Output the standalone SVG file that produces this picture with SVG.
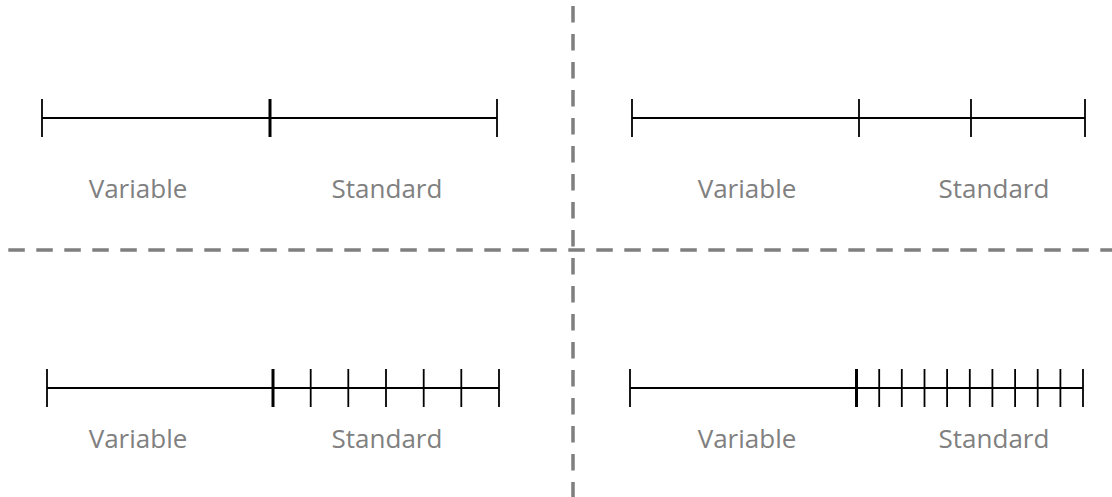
<svg xmlns="http://www.w3.org/2000/svg" width="1112" height="497" viewBox="0 0 1112 497">
<style>
.bg{fill:#fff}
.dash{stroke:#7f7f7f;stroke-width:3.5;stroke-dasharray:16.5 11.5;fill:none}
.axis{stroke:#000;stroke-width:1.8;fill:none}
.tick{stroke:#000;stroke-width:1.8}
.tick.b{stroke-width:3}
.lbl{font-family:"Open Sans","Noto Sans",sans-serif;font-size:26px;fill:#808080;text-anchor:middle}
</style>
<rect class="bg" x="0" y="0" width="1112" height="497"/>
<g id="connectors">
<line class="dash" x1="8.3" y1="250" x2="1112" y2="250"/>
<line class="dash" x1="573" y1="6" x2="573" y2="497"/>
</g>
<g id="panel-top-left">
<line class="axis" x1="42" y1="118" x2="497" y2="118"/>
<line class="tick" x1="42" y1="99" x2="42" y2="137"/>
<line class="tick b" x1="270" y1="99" x2="270" y2="137"/>
<line class="tick" x1="497" y1="99" x2="497" y2="137"/>
<text class="lbl" x="138" y="198">Variable</text>
<text class="lbl" x="387" y="198">Standard</text>
</g>
<g id="panel-top-right">
<line class="axis" x1="632" y1="118" x2="1085" y2="118"/>
<line class="tick" x1="632" y1="99" x2="632" y2="137"/>
<line class="tick" x1="859" y1="99" x2="859" y2="137"/>
<line class="tick" x1="971" y1="99" x2="971" y2="137"/>
<line class="tick" x1="1085" y1="99" x2="1085" y2="137"/>
<text class="lbl" x="747" y="198">Variable</text>
<text class="lbl" x="994" y="198">Standard</text>
</g>
<g id="panel-bottom-left">
<line class="axis" x1="47" y1="388" x2="499" y2="388"/>
<line class="tick" x1="47" y1="369" x2="47" y2="407"/>
<line class="tick b" x1="273" y1="369" x2="273" y2="407"/>
<line class="tick" x1="310.7" y1="369" x2="310.7" y2="407"/>
<line class="tick" x1="348.3" y1="369" x2="348.3" y2="407"/>
<line class="tick" x1="386" y1="369" x2="386" y2="407"/>
<line class="tick" x1="423.7" y1="369" x2="423.7" y2="407"/>
<line class="tick" x1="461.3" y1="369" x2="461.3" y2="407"/>
<line class="tick" x1="499" y1="369" x2="499" y2="407"/>
<text class="lbl" x="138" y="448">Variable</text>
<text class="lbl" x="387" y="448">Standard</text>
</g>
<g id="panel-bottom-right">
<line class="axis" x1="630" y1="388" x2="1083" y2="388"/>
<line class="tick" x1="630" y1="369" x2="630" y2="407"/>
<line class="tick b" x1="856.5" y1="369" x2="856.5" y2="407"/>
<line class="tick" x1="879.2" y1="369" x2="879.2" y2="407"/>
<line class="tick" x1="901.8" y1="369" x2="901.8" y2="407"/>
<line class="tick" x1="924.5" y1="369" x2="924.5" y2="407"/>
<line class="tick" x1="947.1" y1="369" x2="947.1" y2="407"/>
<line class="tick" x1="969.8" y1="369" x2="969.8" y2="407"/>
<line class="tick" x1="992.4" y1="369" x2="992.4" y2="407"/>
<line class="tick" x1="1015.1" y1="369" x2="1015.1" y2="407"/>
<line class="tick" x1="1037.7" y1="369" x2="1037.7" y2="407"/>
<line class="tick" x1="1060.4" y1="369" x2="1060.4" y2="407"/>
<line class="tick" x1="1083" y1="369" x2="1083" y2="407"/>
<text class="lbl" x="747" y="448">Variable</text>
<text class="lbl" x="994" y="448">Standard</text>
</g>
</svg>
